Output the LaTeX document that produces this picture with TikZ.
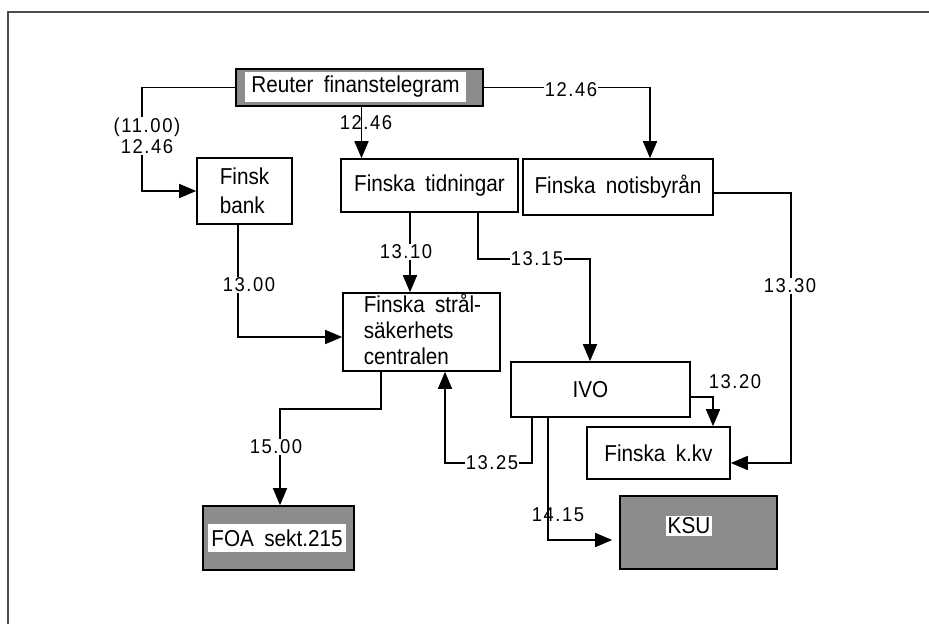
\documentclass[tikz,border=0pt]{standalone}
\usepackage{fontspec}
\setmainfont{Liberation Sans}[WordSpace=1.8,FakeStretch=0.9]
\newfontfamily\timefont{Liberation Sans}[LetterSpace=8,FakeStretch=0.92]
\usetikzlibrary{arrows.meta}

\begin{document}
\begin{tikzpicture}[>={Triangle[length=17pt,width=14pt]},x=1pt,y=-1pt,
                    line width=1.6pt,font=\fontsize{23}{26}\selectfont]
  \tikzstyle{box}=[draw,rectangle,inner sep=0pt]
  \tikzstyle{dark}=[box,fill=black!45]
  \tikzstyle{plate}=[fill=white,inner sep=2pt]
  \tikzstyle{time}=[font=\timefont\fontsize{20}{21}\selectfont,inner sep=1pt]
  \tikzstyle{cut}=[time,fill=white]

  \useasboundingbox (0,0) rectangle (929,624);
  \draw[black!70,line width=1.4pt] (929,12) -- (8,12) -- (8,624);

  % boxes
  \node[dark,minimum width=247pt,minimum height=37pt] (reuter) at (359.5,87.5) {};
  \node[plate,minimum width=221pt,minimum height=30pt] (reutertext) at (355.5,86.5) {Reuter finanstelegram};
  \node[box,minimum width=95pt,minimum height=66pt,align=left,
        font=\fontsize{23}{29}\selectfont] (bank) at (244.5,191) {Finsk\\bank};
  \node[box,minimum width=177pt,minimum height=53pt] (tidn) at (429.5,185.5) {Finska tidningar};
  \node[box,minimum width=190pt,minimum height=56pt] (notis) at (618,187) {Finska notisbyrån};
  \node[box,minimum width=157pt,minimum height=78pt] (fsc) at (421.5,332) {};
  \node[anchor=west,align=left,inner sep=0pt,font=\fontsize{23}{26}\selectfont]
        (fsctext) at (363,329) {Finska strål-\\säkerhets\\centralen};
  \node[box,minimum width=179pt,minimum height=55pt] (ivo) at (600.5,389.5) {\hspace*{-20pt}IVO};
  \node[box,minimum width=143pt,minimum height=52pt] (kkv) at (658.5,453) {Finska k.kv};
  \node[dark,minimum width=157pt,minimum height=73pt] (ksu) at (698.5,532.5) {};
  \node[plate] (ksutext) at (689,526) {KSU};
  \node[dark,minimum width=151pt,minimum height=64pt] (foa) at (278.5,538) {};
  \node[plate,minimum width=138pt,minimum height=28pt] (foatext) at (277,538) {FOA sekt.215};

  % connectors
  \draw[->] (reuter.west) -- ++(-93,0) |- (bank.west);
  \draw[->] ([xshift=2pt]reuter.south) -- ([xshift=2pt]reuter.south |- tidn.north);
  \draw[->] (reuter.east) -| ([xshift=32pt]notis.north);
  \draw[->] ([xshift=-6.5pt]bank.south) |- ([yshift=-5pt]fsc.west);
  \draw[->] ([xshift=-19.5pt]tidn.south) -- ([xshift=-19.5pt]tidn.south |- fsc.north);
  \draw[->] ([xshift=48.5pt]tidn.south) -- ++(0,46) -| ([xshift=-10.5pt]ivo.north);
  \draw[->] ([yshift=-7.5pt]ivo.east) -| ([xshift=54.5pt]kkv.north);
  \draw[->] ([yshift=-6pt]notis.east) -- ++(77,0) |- ([yshift=-10pt]kkv.east);
  \draw[->] ([xshift=-68.5pt]ivo.south) -- ++(0,45) -| ([xshift=23.5pt]fsc.south);
  \draw[->] ([xshift=-40.5pt]fsc.south) -- ++(0,37) -| ([xshift=1.5pt]foa.north);
  \draw[->,shorten >=7pt] ([xshift=-52.5pt]ivo.south) |- ([yshift=-7.5pt]ksu.west);

  % times
  \node[cut,align=center] (t1) at (147,136) {(11.00)\\12.46};
  \node[time] (t2) at (366,123) {12.46};
  \node[cut] (t3) at (571,90) {12.46};
  \node[cut] (t4) at (249,285) {13.00};
  \node[cut] (t5) at (406,252) {13.10};
  \node[cut] (t6) at (537,259) {13.15};
  \node[time] (t7) at (735,382) {13.20};
  \node[cut] (t8) at (790,286) {13.30};
  \node[cut] (t9) at (492,463) {13.25};
  \node[cut] (t10) at (276,447) {15.00};
  \node[time] (t11) at (558,515) {14.15};
\end{tikzpicture}
\end{document}
